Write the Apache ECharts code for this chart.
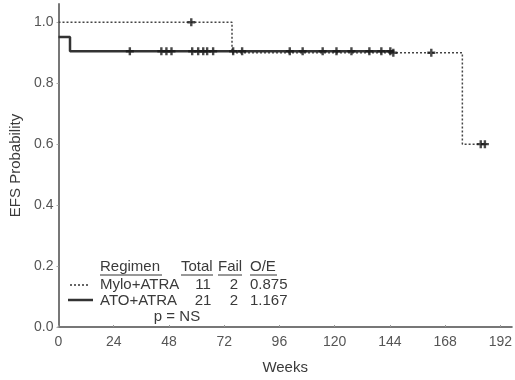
<!DOCTYPE html>
<html>
<head>
<meta charset="utf-8">
<title>EFS by regimen</title>
<script src="https://cdn.jsdelivr.net/npm/echarts@6/dist/echarts.min.js"></script>
<style>
  html, body { margin: 0; padding: 0; background: #fff; }
  #main { width: 515px; height: 380px; }
</style>
</head>
<body>
<div id="main"></div>
<script type="text/javascript">
// KM steps (weeks, probability)
var atoWeeks = [0, 5, 145.5];
var atoProb = [0.952, 0.905, 0.905];
var atoCensorWeeks = [31, 44.7, 46.9, 49.1, 58.1, 60.7, 62.9, 64.6, 67.2, 75.9, 79.8,
                      100.5, 106.1, 114.8, 120.8, 127.3, 135.1, 140.3, 144.2];
var atoCensorProb = 0.905;

var myloWeeks = [0, 75.4, 175.5, 186.5];
var myloProb = [1.0, 0.9, 0.6, 0.6];
var myloCensorWeeks = [57.7, 145.5, 162, 183.5, 185.3];
var myloCensorProb = [1.0, 0.9, 0.9, 0.6, 0.6];

var xTicks = [0, 24, 48, 72, 96, 120, 144, 168, 192];
var yTicks = [0, 0.2, 0.4, 0.6, 0.8, 1.0];

// legend table
var headers = ['Regimen', 'Total', 'Fail', 'O/E'];
var regimens = ['Mylo+ATRA', 'ATO+ATRA'];
var totals = ['11', '21'];
var fails = ['2', '2'];
var oe = ['0.875', '1.167'];
var pText = 'p = NS';

function pairs(xs, ys) {
    var out = [];
    for (var i = 0; i < xs.length; i++) {
        out.push([xs[i], Array.isArray(ys) ? ys[i] : ys]);
    }
    return out;
}

var fam = '"Liberation Sans", Arial, sans-serif';
var font = '15px ' + fam;
var txtColor = '#3a3a3a';
var plus = 'path://M3.5,0h3v3.5h3.5v3h-3.5v3.5h-3v-3.5h-3.5v-3h3.5z';

function txt(s, x, y, align) {
    return { type: 'text', x: x, y: y, silent: true,
        style: { text: s, font: font, fill: txtColor, align: align || 'left', verticalAlign: 'middle' } };
}
function seg(x1, x2, y, w, dash) {
    return { type: 'line', silent: true,
        shape: { x1: x1, y1: y, x2: x2, y2: y },
        style: { stroke: '#333', lineWidth: w, lineDash: dash || null } };
}

var graphics = [
    txt(headers[0], 100, 267), seg(100, 162, 275, 1),
    txt(headers[1], 181, 267), seg(181, 213, 275, 1),
    txt(headers[2], 218, 267), seg(218, 242, 275, 1),
    txt(headers[3], 250, 267), seg(250, 277, 275, 1),
    seg(70, 90, 285, 1.5, [2, 2]),
    seg(68, 93, 300, 2.5),
    txt(pText, 177, 317, 'center')
];
for (var r = 0; r < regimens.length; r++) {
    var yy = 285 + r * 15.5;
    graphics.push(txt(regimens[r], 100, yy));
    graphics.push(txt(totals[r], 203, yy, 'center'));
    graphics.push(txt(fails[r], 234, yy, 'center'));
    graphics.push(txt(oe[r], 250, yy));
}

var myChart = echarts.init(document.getElementById('main'), null, { renderer: 'canvas' });

var option = {
    animation: false,
    backgroundColor: '#fff',
    grid: { left: 58.5, right: 0, top: 4, bottom: 46, containLabel: false },
    xAxis: {
        type: 'value', min: 0, max: 197,
        name: 'Weeks', nameLocation: 'middle', nameGap: 33,
        nameTextStyle: { color: txtColor, fontSize: 15, fontFamily: fam },
        axisLine: { lineStyle: { color: '#777', width: 2 } },
        axisTick: { inside: true, length: 2, customValues: xTicks, lineStyle: { color: '#999' } },
        axisLabel: { customValues: xTicks, margin: 8, color: '#555', fontSize: 14, fontFamily: fam },
        splitLine: { show: false }
    },
    yAxis: {
        type: 'value', min: 0, max: 1.06,
        name: 'EFS Probability', nameLocation: 'middle', nameGap: 33,
        nameTextStyle: { color: txtColor, fontSize: 15, fontFamily: fam },
        axisLine: { show: true, lineStyle: { color: '#777', width: 2 } },
        axisTick: { show: true, length: 2, customValues: yTicks, lineStyle: { color: '#aaa' } },
        axisLabel: { customValues: yTicks, margin: 5, color: '#555', fontSize: 14, fontFamily: fam,
            formatter: function (v) { return v.toFixed(1); } },
        splitLine: { show: false }
    },
    series: [
        {
            name: 'Mylo+ATRA', type: 'line', step: 'end', symbol: 'none',
            lineStyle: { color: '#444', width: 1.5, type: [2, 2] },
            data: pairs(myloWeeks, myloProb), z: 3
        },
        {
            name: 'ATO+ATRA', type: 'line', step: 'end', symbol: 'none',
            lineStyle: { color: '#333', width: 2.5 },
            data: pairs(atoWeeks, atoProb), z: 2
        },
        {
            name: 'ATO censored', type: 'scatter', symbol: plus, symbolSize: 8,
            itemStyle: { color: '#1a1a1a' },
            data: pairs(atoCensorWeeks, atoCensorProb), z: 4
        },
        {
            name: 'Mylo censored', type: 'scatter', symbol: plus, symbolSize: 8,
            itemStyle: { color: '#1a1a1a' },
            data: pairs(myloCensorWeeks, myloCensorProb), z: 4
        }
    ],
    graphic: graphics
};

myChart.setOption(option);
</script>
</body>
</html>
